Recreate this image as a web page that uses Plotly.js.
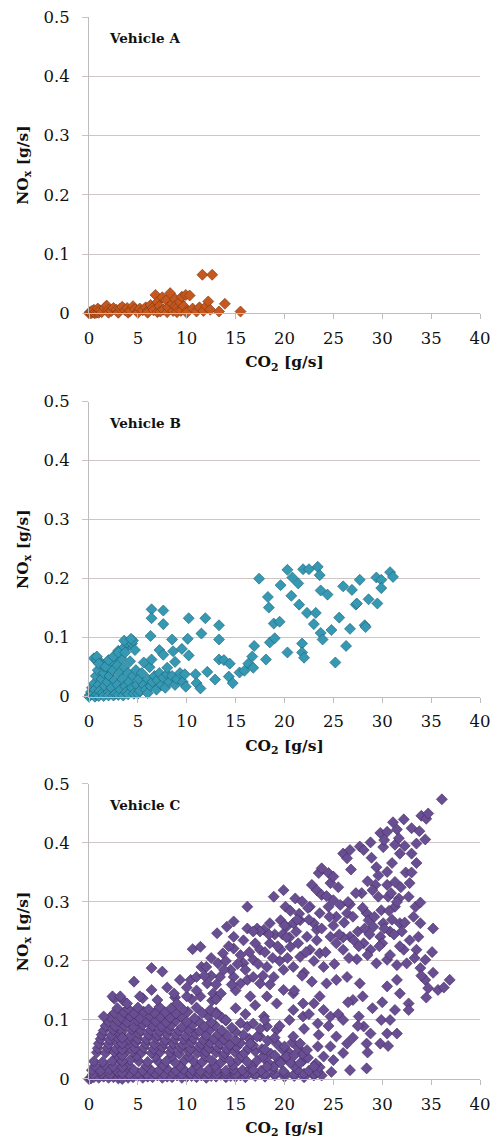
<!DOCTYPE html>
<html>
<head>
<meta charset="utf-8">
<script src="https://cdn.plot.ly/plotly-3.0.1.min.js"></script>
<style>html,body{margin:0;padding:0;background:#fff;}#chart{width:493px;height:1140px;}</style>
</head>
<body>
<div id="chart"></div>
<script>
// ---- data (CO2 g/s, NOx g/s) ----
var vehicleNames = ["Vehicle A", "Vehicle B", "Vehicle C"];
var xTicks = [0, 5, 10, 15, 20, 25, 30, 35, 40];
var yTicks = [0, 0.1, 0.2, 0.3, 0.4, 0.5];

var pointsA = [
[0,0],[0.1,0.002],[0.2,0],[0.3,0.004],[0.4,0.001],[0.5,0.006],[0.6,0],[0.7,0.003],[0.8,0.001],[0.9,0.008],[1.0,0.001],[1.1,0.005],[1.3,0.002],[1.6,0.009],[1.8,0.013],[2.0,0.006],[2.0,0.001],[2.3,0.004],[2.5,0.009],[2.8,0.006],[3.0,0.002],[3.0,0.001],[3.2,0.008],[3.4,0.011],[3.7,0.005],[3.9,0.009],[4.0,0.001],[4.2,0.004],[4.5,0.012],[4.7,0.007],[5.0,0.003],[5.0,0.001],[5.2,0.008],[5.5,0.005],[5.8,0.010],[6.0,0.004],[6.0,0.001],[6.3,0.014],[6.5,0.009],[6.6,0.005],[6.8,0.031],[7.0,0.019],[7.0,0.002],[7.2,0.012],[7.3,0.003],[7.5,0.027],[7.6,0.006],[7.9,0.022],[8.0,0.002],[8.1,0.010],[8.3,0.034],[8.5,0.016],[8.6,0.004],[8.8,0.024],[8.8,0.012],[9.0,0.009],[9.0,0.002],[9.3,0.019],[9.4,0.004],[9.5,0.028],[9.7,0.012],[9.9,0.031],[10.0,0.004],[10.0,0.001],[10.3,0.030],[10.6,0.008],[11.0,0.003],[11.3,0.010],[11.6,0.065],[11.7,0.004],[12.0,0.012],[12.2,0.020],[12.4,0.006],[12.6,0.065],[13.3,0.003],[13.9,0.016],[15.5,0.003]
];

var pointsB = [
[0,0],[0.1,0.003],[0.2,0.008],[0.3,0.015],[0.4,0.005],[0.5,0.022],[0.6,0.012],[0.6,0],[0.7,0.035],[0.8,0.003],[0.9,0.045],[1.0,0.020],[1.0,0.001],[1.1,0.010],[1.2,0.058],[1.3,0.030],[1.4,0.006],[1.5,0.040],[1.5,0.001],[1.6,0.018],[1.8,0.050],[1.9,0.025],[2.0,0.008],[2.0,0.002],[2.1,0.035],[2.3,0.015],[2.4,0.045],[2.5,0.002],[2.6,0.028],[2.7,0.005],[2.8,0.055],[2.9,0.020],[3.0,0.003],[3.1,0.040],[3.2,0.012],[3.3,0.065],[3.4,0.030],[3.5,0.002],[3.6,0.050],[3.7,0.018],[3.8,0.008],[3.9,0.085],[4.0,0.040],[4.0,0.004],[4.1,0.025],[4.2,0.060],[4.4,0.015],[4.5,0.035],[4.6,0.005],[4.8,0.045],[4.9,0.020],[5.0,0.005],[5.1,0.030],[5.2,0.010],[5.4,0.040],[5.6,0.020],[5.8,0.012],[6.0,0.030],[6.0,0.006],[6.2,0.050],[6.3,0.018],[6.5,0.025],[6.7,0.035],[6.9,0.012],[7.0,0.028],[7.2,0.040],[7.4,0.020],[7.6,0.032],[7.8,0.015],[8.0,0.038],[8.2,0.025],[8.5,0.035],[8.8,0.020],[9.0,0.030],[9.3,0.040],[9.6,0.025],
[0.5,0.065],[0.8,0.062],[1.5,0.052],[2.2,0.060],[2.7,0.070],[3.0,0.078],[3.5,0.082],[3.9,0.092],[4.4,0.090],[4.5,0.095],
[0.8,0.068],[1.0,0.056],[1.7,0.051],[2.0,0.062],[2.5,0.068],[3.0,0.075],[3.6,0.095],[3.7,0.075],[4.3,0.098],[4.7,0.079],[5.6,0.058],[6.3,0.103],[6.4,0.148],[6.4,0.133],[6.4,0.063],[7.2,0.079],[7.6,0.146],[7.6,0.123],[7.6,0.071],[8.0,0.049],[8.5,0.097],[8.6,0.077],[8.8,0.059],[9.5,0.081],[9.8,0.038],[9.9,0.017],[10.1,0.098],[10.2,0.133],[10.2,0.070],[10.9,0.038],[11.0,0.023],[11.4,0.014],[11.5,0.107],[11.9,0.133],[12.1,0.042],[12.9,0.029],[13.3,0.121],[13.3,0.097],[13.3,0.063],[13.8,0.062],[14.3,0.034],[14.4,0.056],[14.7,0.023],[15.4,0.041],[15.9,0.044],[16.3,0.056],[16.7,0.068],[16.8,0.049],[16.9,0.086],
[17.4,0.200],[18.1,0.063],[18.3,0.169],[18.4,0.151],[18.5,0.092],[18.9,0.124],[19.0,0.099],[19.5,0.127],[19.6,0.189],[20.3,0.215],[20.3,0.075],[20.7,0.171],[20.8,0.202],[21.4,0.192],[21.5,0.156],[21.8,0.090],[21.8,0.075],[21.9,0.216],[22.0,0.066],[22.3,0.142],[22.5,0.216],[23.0,0.123],[23.2,0.142],[23.4,0.220],[23.6,0.206],[23.7,0.180],[23.7,0.108],[23.9,0.097],[24.4,0.173],[24.8,0.113],[25.2,0.058],[25.6,0.134],[26.0,0.187],[26.3,0.086],[26.7,0.115],[26.9,0.181],[27.3,0.156],[27.4,0.158],[27.7,0.198],[28.2,0.121],[28.3,0.118],[28.6,0.165],[29.4,0.202],[29.5,0.158],[29.9,0.198],[29.9,0.184],[30.8,0.211],[31.1,0.203]
];

var pointsC = [
// dense low band
[0,0],[0.2,0.001],[0.5,0.003],[1.0,0.002],[1.5,0.004],[2.0,0.002],[2.5,0.003],[3.0,0.001],[3.5,0.004],[4.0,0.002],[4.5,0.003],[5.0,0.005],[5.5,0.002],[6.0,0.004],[6.5,0.003],[7.0,0.006],[7.5,0.002],[8.0,0.004],[8.5,0.003],[9.0,0.006],[9.5,0.002],[10.0,0.004],[10.5,0.005],[11.0,0.003],[11.5,0.006],[12.0,0.002],[12.5,0.005],[13.0,0.004],[13.5,0.007],[14.0,0.003],[14.5,0.005],[15.0,0.004],[15.5,0.006],[16.0,0.003],[17.0,0.005],[18.0,0.004],[19.0,0.006],[20.0,0.004],[21.0,0.005],[22.0,0.003],[23.0,0.006],
[0.4,0.008],[1.3,0.009],[2.2,0.008],[3.1,0.009],[4.1,0.008],[5.0,0.010],[5.9,0.008],[6.8,0.009],[7.7,0.008],[8.6,0.010],[9.5,0.008],[10.4,0.009],[11.3,0.008],[12.2,0.010],[13.1,0.008],[14.0,0.009],[15.0,0.008],[16.0,0.010],[17.0,0.008],[18.0,0.009],[19.0,0.008],[20.0,0.010],[21.0,0.008],[22.0,0.009],[23.0,0.008],[23.8,0.006],
[0.3,0.015],[1.2,0.014],[2.1,0.016],[2.9,0.013],[3.8,0.017],[4.6,0.015],[5.5,0.014],[6.3,0.016],[7.2,0.015],[8.0,0.017],[8.9,0.014],[9.7,0.016],[10.6,0.015],[11.4,0.013],[12.3,0.017],[13.1,0.015],[14.0,0.014],[14.8,0.016],[15.7,0.015],[16.5,0.017],[17.6,0.014],[18.8,0.016],[19.9,0.013],[21.3,0.016],[22.5,0.014],[23.4,0.012],
[0.6,0.022],[1.6,0.024],[2.5,0.021],[4.0,0.024],[5.9,0.022],[7.6,0.023],[9.3,0.022],[11.0,0.023],[12.9,0.022],[14.7,0.023],[16.7,0.022],[18.9,0.021],[21.0,0.022],[23.6,0.020],
[0.5,0.030],[1.4,0.029],[2.4,0.031],[3.3,0.028],[4.2,0.032],[5.1,0.030],[6.0,0.029],[7.0,0.031],[7.9,0.030],[8.8,0.028],[9.8,0.032],[10.7,0.030],[11.6,0.029],[12.6,0.031],[13.5,0.028],[14.5,0.030],[15.3,0.032],[16.2,0.029],[17.2,0.031],[18.3,0.028],[19.5,0.030],[20.6,0.027],[21.9,0.031],[23.2,0.026],
[3.0,0.038],[4.9,0.039],[6.8,0.038],[8.5,0.039],[10.2,0.038],[11.9,0.039],[13.8,0.038],[15.6,0.039],[17.8,0.038],[20.1,0.037],[22.4,0.036],
[0.8,0.045],[1.7,0.044],[2.6,0.046],[3.6,0.043],[4.5,0.047],[5.4,0.045],[6.4,0.044],[7.3,0.046],[8.3,0.045],[9.2,0.043],[10.2,0.047],[11.1,0.044],[12.0,0.046],[13.0,0.045],[13.9,0.043],[14.9,0.046],[15.9,0.044],[17.0,0.047],[18.6,0.043],[20.4,0.046],[21.8,0.042],
[0.9,0.052],[1.9,0.053],[2.8,0.051],[3.7,0.054],[4.7,0.052],[5.6,0.053],[6.6,0.051],[7.5,0.054],[8.5,0.052],[9.4,0.053],[10.4,0.051],[11.3,0.054],[12.3,0.052],[13.2,0.053],[14.1,0.051],[15.1,0.054],[16.3,0.052],[17.7,0.051],[19.8,0.050],[21.4,0.053],
[1.0,0.060],[2.0,0.059],[2.9,0.061],[3.9,0.058],[4.8,0.062],[5.8,0.060],[6.7,0.059],[7.7,0.061],[8.6,0.060],[9.6,0.058],[10.5,0.062],[11.5,0.059],[12.4,0.061],[13.4,0.060],[14.4,0.058],[15.5,0.061],[16.8,0.057],[19.2,0.060],[20.8,0.062],
[1.2,0.068],[2.1,0.067],[3.0,0.069],[4.0,0.066],[5.0,0.068],[5.9,0.067],[6.9,0.069],[7.8,0.066],[8.8,0.068],[9.7,0.067],[10.7,0.069],[11.7,0.066],[12.8,0.068],[13.8,0.067],[15.0,0.066],[16.4,0.068],[18.3,0.065],
[1.3,0.075],[2.3,0.074],[3.2,0.076],[4.2,0.073],[5.1,0.077],[6.1,0.075],[7.0,0.074],[8.0,0.076],[8.9,0.075],[9.9,0.073],[10.9,0.077],[12.0,0.074],[13.2,0.076],[14.2,0.073],[15.8,0.075],[17.5,0.072],
[1.5,0.082],[2.5,0.083],[3.4,0.081],[4.4,0.084],[5.3,0.082],[6.3,0.083],[7.2,0.081],[8.2,0.084],[9.2,0.082],[10.2,0.083],[11.3,0.081],[12.4,0.084],[13.6,0.082],[15.0,0.080],
[1.7,0.090],[2.7,0.089],[3.6,0.091],[4.6,0.088],[5.5,0.092],[6.5,0.090],[7.4,0.089],[8.4,0.091],[9.5,0.088],[10.6,0.092],[11.8,0.089],[12.9,0.091],[14.6,0.087],
[2.0,0.097],[3.0,0.098],[3.9,0.096],[4.9,0.099],[5.9,0.097],[6.8,0.098],[7.9,0.096],[8.9,0.099],[10.0,0.097],[11.2,0.098],[12.5,0.096],[14.0,0.099],
[2.2,0.105],[3.3,0.104],[4.2,0.106],[5.2,0.103],[6.2,0.107],[7.3,0.105],[8.3,0.104],[9.4,0.106],[10.8,0.103],[12.2,0.107],[13.6,0.104],
[2.6,0.112],[3.6,0.113],[4.6,0.111],[5.6,0.114],[6.7,0.112],[7.8,0.113],[8.9,0.111],[10.1,0.114],[11.6,0.112],[13.0,0.113],
[2.9,0.120],[4.0,0.119],[5.0,0.121],[6.1,0.118],[7.2,0.122],[8.4,0.120],[9.6,0.118],[11.0,0.121],[12.4,0.117],
[2.6,0.136],[3.5,0.133],[5.5,0.137],[7.0,0.134],[8.8,0.138],[10.5,0.135],[12.6,0.133],
// dark bar near x = 3.4
[3.4,0.0],[3.4,0.01],[3.4,0.02],[3.4,0.03],[3.4,0.04],[3.4,0.05],[3.4,0.06],[3.4,0.07],
// scattered
[1.5,0.106],[2.4,0.140],[3.2,0.140],[3.9,0.128],[4.6,0.165],[5.2,0.140],[6.4,0.188],[6.4,0.151],[7.5,0.182],[8.0,0.155],[8.7,0.145],[9.0,0.128],[9.3,0.168],[10.0,0.140],[10.4,0.168],[10.6,0.220],[11.0,0.173],[11.4,0.224],[11.4,0.140],[11.5,0.190],[12.1,0.162],[12.7,0.145],[13.1,0.247],[13.2,0.196],[13.4,0.173],[13.7,0.213],[14.1,0.258],[14.8,0.267],[14.8,0.241],[14.8,0.221],[14.8,0.173],[15.5,0.162],[15.8,0.196],[16.2,0.292],[16.2,0.255],[16.2,0.168],[16.2,0.089],[16.8,0.202],[16.8,0.173],[16.8,0.094],[16.8,0.015],[17.2,0.255],[17.2,0.072],[17.5,0.219],[17.5,0.162],[17.9,0.253],[17.9,0.106],[18.2,0.190],[18.2,0.140],[18.2,0.089],[18.2,0.021],[18.5,0.264],[18.5,0.230],[18.9,0.309],[18.9,0.173],[19.2,0.128],[19.2,0.083],[19.6,0.269],[19.6,0.219],[19.6,0.027],[19.9,0.320],[19.9,0.185],[19.9,0.151],[20.1,0.292],[20.2,0.258],[20.2,0.038],[20.6,0.224],[20.9,0.264],[20.9,0.190],[20.9,0.145],[20.9,0.117],[20.9,0.072],[21.1,0.306],[21.4,0.230],[21.6,0.269],[21.6,0.207],[21.6,0.060],[21.6,0.027],[21.8,0.301],[21.9,0.128],[21.9,0.106],[22.3,0.241],[22.3,0.049],[22.6,0.292],[22.6,0.219],[22.8,0.329],[23.0,0.264],[23.0,0.128],[23.0,0.021],[23.3,0.320],[23.3,0.253],[23.4,0.094],[23.4,0.055],[23.5,0.349],[23.6,0.281],[23.6,0.213],[23.6,0.140],[23.8,0.357],[23.8,0.312],[24.0,0.117],[24.0,0.038],[24.3,0.162],[24.5,0.349],[24.5,0.292],[24.7,0.332],[24.7,0.241],[24.7,0.106],[24.7,0.055],[24.8,0.012],[25.0,0.343],[25.0,0.303],[25.0,0.032],[25.3,0.275],[25.3,0.230],[25.3,0.168],[25.3,0.072],[25.7,0.295],[26.0,0.382],[26.0,0.219],[26.0,0.044],[26.4,0.374],[26.4,0.281],[26.4,0.173],[26.4,0.060],[26.7,0.388],[26.7,0.296],[26.7,0.241],[26.7,0.015],[27.0,0.275],[27.0,0.134],[27.4,0.203],[27.6,0.106],[27.7,0.394],[27.7,0.162],[27.9,0.315],[28.1,0.388],[28.1,0.230],[28.1,0.089],[28.4,0.281],[28.4,0.060],[28.4,0.018],[28.6,0.269],[28.8,0.401],[28.8,0.219],[28.8,0.077],[29.1,0.258],[29.3,0.329],[29.4,0.359],[29.4,0.196],[29.6,0.309],[29.8,0.417],[29.8,0.241],[29.8,0.060],[29.9,0.286],[29.9,0.100],[30.1,0.393],[30.1,0.264],[30.5,0.419],[30.5,0.351],[30.5,0.329],[30.5,0.202],[30.5,0.157],[30.5,0.077],[30.6,0.309],[30.6,0.056],[30.8,0.250],[30.8,0.100],[31.0,0.366],[31.3,0.397],[31.3,0.334],[31.3,0.292],[31.3,0.117],[31.5,0.423],[31.5,0.193],[31.5,0.168],[31.5,0.077],[31.7,0.408],[31.7,0.306],[31.8,0.382],[31.8,0.264],[31.8,0.145],[32.2,0.440],[32.2,0.219],[32.5,0.196],[32.7,0.309],[32.7,0.128],[32.7,0.117],[32.8,0.332],[33.0,0.425],[33.0,0.382],[33.2,0.275],[33.4,0.292],[33.5,0.399],[33.5,0.366],[33.5,0.219],[33.7,0.241],[33.9,0.299],[33.9,0.264],[33.9,0.188],[34.0,0.446],[34.4,0.406],[34.4,0.202],[34.4,0.168],[34.5,0.441],[34.5,0.138],[34.7,0.450],[34.7,0.154],[35.1,0.215],[35.2,0.255],[35.2,0.180],[35.7,0.151],[36.1,0.474],[36.3,0.155],[36.9,0.168],
[12.0,0.190],[12.5,0.175],[13.0,0.160],[13.5,0.145],[14.0,0.200],[14.5,0.185],[15.0,0.150],[15.5,0.210],[16.0,0.185],[16.5,0.140],[17.0,0.230],[17.5,0.250],[18.0,0.215],[18.5,0.160],[19.0,0.245],[19.5,0.200],[20.0,0.260],[20.5,0.240],[21.0,0.150],[21.5,0.280],[22.0,0.180],[22.5,0.270],[23.0,0.200],[24.0,0.190],[25.0,0.260],[26.0,0.240],[26.5,0.300],[27.5,0.250],[28.0,0.290],[28.5,0.210],[29.0,0.320],[30.0,0.230],[31.0,0.270],[31.5,0.300],[32.0,0.250],[30.8,0.210],[32.4,0.350],[33.0,0.350],
[10.0,0.155],[11.0,0.150],[11.8,0.175],[12.5,0.205],[13.0,0.135],[13.8,0.185],[14.3,0.225],[14.6,0.160],[15.2,0.195],[15.8,0.235],[16.4,0.215],[16.8,0.250],[17.3,0.195],[17.8,0.175],[18.4,0.245],[18.8,0.205],[19.3,0.225],[19.8,0.245],[20.3,0.205],[20.6,0.285],[21.2,0.250],[21.8,0.175],[22.2,0.215],[22.8,0.165],[23.3,0.235],[23.8,0.255],[24.2,0.215],[24.6,0.275],[25.1,0.195],[25.6,0.245],[26.1,0.265],[26.6,0.205],[27.1,0.235],[27.6,0.225],[28.2,0.255],[28.7,0.245],[29.2,0.275],[29.7,0.225],[30.2,0.255],[30.7,0.285],[31.2,0.245],[31.8,0.225],[32.3,0.265],[32.8,0.235],[33.3,0.205],[34.0,0.175],[27.3,0.315],[28.5,0.335],[29.6,0.345],[30.9,0.315],[31.9,0.325],[32.3,0.395],[33.8,0.420],[30.2,0.405],[31.1,0.435],[28.9,0.375],[26.8,0.355],[25.5,0.325],[24.3,0.310],[22.4,0.290],[21.3,0.270],[20.2,0.240],
[15.0,0.120],[16.0,0.110],[17.0,0.125],[18.0,0.100],[19.5,0.090],[20.5,0.100],[22.5,0.110],[25.5,0.110],[26.5,0.130],[27.5,0.090],[28.0,0.140],[29.0,0.120],[30.0,0.130],[13.0,0.110],[14.0,0.100],[15.5,0.095],[17.5,0.085],[19.0,0.070],[20.0,0.055],[21.0,0.040],[22.0,0.085],[23.5,0.075],[24.5,0.090],[26.0,0.100],[27.0,0.070],[28.5,0.045],[16.5,0.060],[18.0,0.050],[19.0,0.040]
];

var colors = ["#C4581E", "#3599B3", "#6A4E93"];
var edges = ["#7a3410", "#1d5f72", "#3e2b5c"];
var allPoints = [pointsA, pointsB, pointsC];

var fontFam = "DejaVu Serif";
var traces = [];
var layout = {
  width: 493, height: 1140,
  margin: {l: 89, r: 13, t: 17, b: 61},
  paper_bgcolor: "#ffffff", plot_bgcolor: "#ffffff",
  showlegend: false,
  font: {family: fontFam, size: 16, color: "#111111"},
  annotations: []
};
var domains = [[0.721, 1.0], [0.360, 0.6378], [0.0, 0.2778]];

for (var i = 0; i < 3; i++) {
  var sfx = i === 0 ? "" : String(i + 1);
  traces.push({
    type: "scatter", mode: "markers",
    x: allPoints[i].map(function (p) { return p[0]; }),
    y: allPoints[i].map(function (p) { return p[1]; }),
    xaxis: "x" + sfx, yaxis: "y" + sfx,
    cliponaxis: false,
    marker: {symbol: "diamond", size: 8.5, color: colors[i], line: {color: edges[i], width: 0.6}},
    hoverinfo: "x+y"
  });
  layout["xaxis" + sfx] = {
    domain: [0, 1], anchor: "y" + sfx, range: [0, 40],
    tickvals: xTicks, ticks: "outside", ticklen: 5, tickcolor: "#bdbdbd",
    showline: true, linecolor: "#bdbdbd", linewidth: 1,
    showgrid: false, zeroline: false,
    tickfont: {family: fontFam, size: 16.5, color: "#111111"},
    ticklabelstandoff: 5,
    title: {text: "<b>CO<sub>2</sub> [g/s]</b>", font: {family: fontFam, size: 15.5, color: "#111111"}, standoff: 9}
  };
  layout["yaxis" + sfx] = {
    domain: domains[i], anchor: "x" + sfx, range: [0, 0.5],
    tickvals: yTicks, ticks: "outside", ticklen: 6, tickcolor: "#cbc2c2",
    showline: true, linecolor: "#bdbdbd", linewidth: 1,
    showgrid: true, gridcolor: "#cfc5c5", gridwidth: 1, zeroline: false,
    tickfont: {family: fontFam, size: 16.5, color: "#111111"},
    ticklabelstandoff: 9,
    title: {text: "<b>NO<sub>x</sub> [g/s]</b>", font: {family: fontFam, size: 15.5, color: "#111111"}, standoff: 11}
  };
  layout.annotations.push({
    xref: "x" + sfx + " domain", yref: "y" + sfx + " domain",
    x: 0.047, y: 0.928, xanchor: "left", yanchor: "middle",
    text: "<b>" + vehicleNames[i] + "</b>", showarrow: false,
    font: {family: fontFam, size: 13.5, color: "#111111"}
  });
}

Plotly.newPlot("chart", traces, layout, {displayModeBar: false});
</script>
</body>
</html>
